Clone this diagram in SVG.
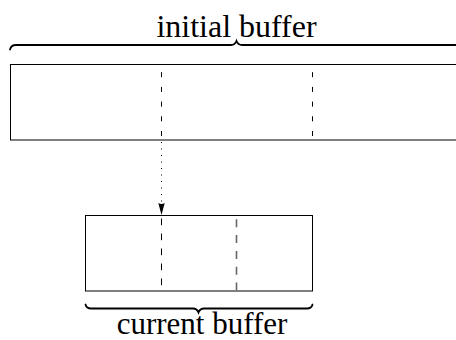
<svg xmlns="http://www.w3.org/2000/svg" width="456" height="340" viewBox="0 0 456 340">
<style>
.box{fill:none;stroke:#000;stroke-width:1}
.brace{fill:none;stroke:#000;stroke-width:1.8;stroke-linecap:round}
.sep{stroke:#000;stroke-width:1}
.lbl{font-family:"Liberation Serif","Times New Roman",serif;font-size:32px;fill:#000;text-anchor:middle}
</style>
<rect width="456" height="340" fill="#fff"/>
<g id="initial">
<rect class="box" x="10.5" y="64.5" width="460" height="75.5"/>
<line class="sep" x1="161.5" y1="64.5" x2="161.5" y2="140" stroke-dasharray="5 9.7" stroke-dashoffset="7"/>
<line class="sep" x1="312.5" y1="64.5" x2="312.5" y2="140" stroke-dasharray="5 9.7" stroke-dashoffset="7"/>
<path class="brace" d="M10,49.5 Q11,45 16,45 L231,45 Q235,45 236.5,41 Q238,45 242,45 L470,45"/>
<text class="lbl" x="236.5" y="37.3">initial buffer</text>
</g>
<g id="current">
<rect class="box" x="85.5" y="215.5" width="227" height="75.5"/>
<line class="sep" x1="161.5" y1="215.5" x2="161.5" y2="291" stroke-dasharray="6.7 8.3" stroke-dashoffset="12"/>
<line x1="236.5" y1="215.5" x2="236.5" y2="291" stroke="#666" stroke-width="1.6" stroke-dasharray="8 7.8" stroke-dashoffset="12"/>
<path class="brace" d="M85.5,304.5 Q86.5,308.5 91,308.5 L193,308.5 Q197,308.5 198.5,312.5 Q200,308.5 204,308.5 L307,308.5 Q311.5,308.5 312.5,304.5"/>
<text class="lbl" x="202" y="334" style="font-size:31px">current buffer</text>
</g>
<g id="connectors">
<line x1="161.5" y1="142" x2="161.5" y2="204" stroke="#000" stroke-width="1" stroke-dasharray="1 5.5"/>
<path d="M161.5,215 L158.3,203 Q161.5,205 164.7,203 Z" fill="#000"/>
</g>
</svg>
